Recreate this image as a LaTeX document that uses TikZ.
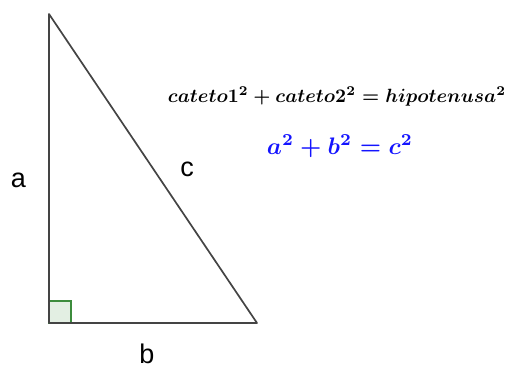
\documentclass[tikz,border=0pt]{standalone}
\usepackage{amsmath}
\usepackage{graphicx}
\usepackage{fontspec}
\newfontfamily\labelfont{Liberation Sans}
\definecolor{edgegray}{HTML}{444444}
\definecolor{anglegreen}{HTML}{3C8C3C}
\definecolor{anglefill}{HTML}{E3EFE3}
\definecolor{formblue}{HTML}{1414FF}
\newcommand{\eqone}{\resizebox{338pt}{!}{$\boldsymbol{cateto1^2+cateto2^2=hipotenusa^2}$}}
\newcommand{\eqtwo}{\resizebox{146pt}{!}{$\boldsymbol{a^2+b^2=c^2}$}}
\begin{document}
\begin{tikzpicture}[x=1pt,y=-1pt,
  side/.style={draw=edgegray,line width=1.7pt},
  lbl/.style={font=\labelfont\fontsize{27}{30}\selectfont,inner sep=0pt},
  eqstyle/.style={inner sep=0pt}]
\useasboundingbox (0,0) rectangle (507,368);
\coordinate (A) at (49,14);
\coordinate (C) at (49,323);
\coordinate (B) at (257,323);
\filldraw[fill=anglefill,draw=anglegreen,line width=1.4pt] (49,301) rectangle (71,323);
\draw[side,line join=round] (A) -- (C) -- (B) -- cycle;
\node[lbl] (la) at (18.5,180.5) {a};
\node[lbl] (lb) at (147,354) {b};
\node[lbl] (lc) at (187,169.5) {c};
\node[eqstyle] (eqa) at (337,97) {\eqone};
\node[eqstyle,text=formblue] (eqb) at (340,146) {\eqtwo};
\end{tikzpicture}
\end{document}
